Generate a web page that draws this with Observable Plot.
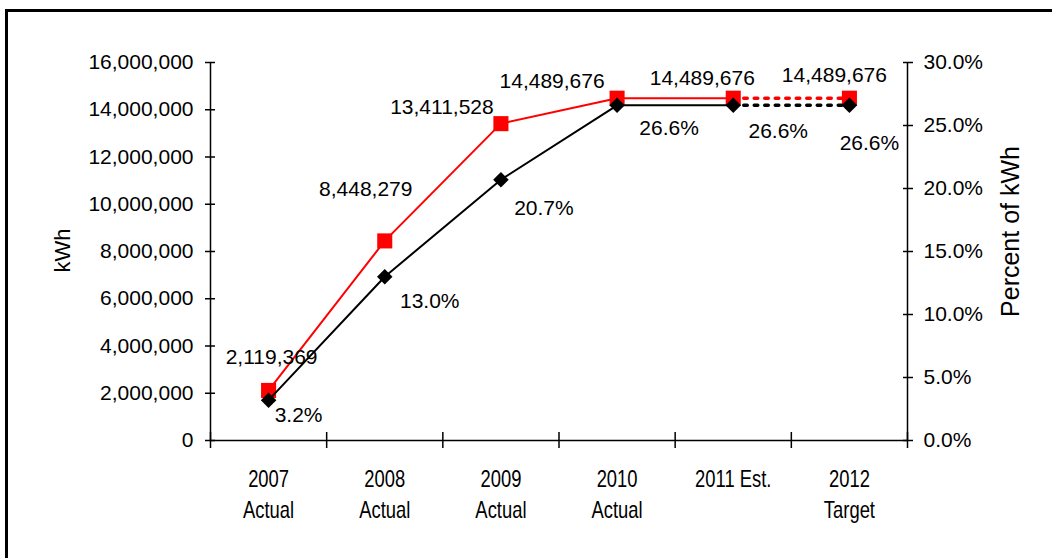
<!DOCTYPE html>
<html>
<head>
<meta charset="utf-8">
<script src="https://cdn.jsdelivr.net/npm/d3@7"></script>
<script src="https://cdn.jsdelivr.net/npm/@observablehq/plot@0.6"></script>
<style>
  html, body { margin: 0; padding: 0; background: #fff; }
  #wrap { position: relative; width: 1052px; height: 558px; overflow: hidden; }
  #border { position: absolute; left: 5px; top: 9px; right: -10px; bottom: -10px;
            border-left: 3px solid #000; border-top: 3px solid #000; pointer-events: none; }
  svg { display: block; }
</style>
</head>
<body>
<div id="wrap"><div id="border"></div></div>
<script>
// ---- data ----
const categories = ["2007\nActual", "2008\nActual", "2009\nActual", "2010\nActual", "2011 Est.", "2012\nTarget"];
const kwhValues = [2119369, 8448279, 13411528, 14489676, 14489676, 14489676];
const pctValues = [3.2, 13.0, 20.7, 26.6, 26.6, 26.6];
const kwhTicks = [0, 2000000, 4000000, 6000000, 8000000, 10000000, 12000000, 14000000, 16000000];
const pctTicks = [0, 5, 10, 15, 20, 25, 30];
const leftTitle = "kWh";
const rightTitle = "Percent of kWh";
const lastActual = 4; // segments after this index are drawn dotted

// ---- derived ----
const kwhMax = kwhTicks[kwhTicks.length - 1];
const pctMax = pctTicks[pctTicks.length - 1];
const pctToY = p => p * kwhMax / pctMax;
const rows = categories.map((c, i) => ({i, cat: c, kwh: kwhValues[i], pct: pctValues[i], pctY: pctToY(pctValues[i])}));
const solidRows = rows.slice(0, lastActual + 1);
const dottedRows = rows.slice(lastActual);
const bounds = d3.range(-0.5, categories.length, 1);

// label placement (manual, as in the original)
const kwhLabelShift = [[3, -33], [-19, -52], [-59, -16], [-65, -17], [-31, -20], [-15, -23]];
const pctLabelShift = [[30, 15], [45, 25], [43, 29], [52, 23], [45, 26], [20, 38]];

const FONT = "Liberation Sans, Arial, sans-serif";
const FS = 21;
const fmtK = d3.format(",");
const fmtP = p => p.toFixed(1) + "%";

const marks = [
  // axes lines
  Plot.ruleY([0], {stroke: "#000", strokeWidth: 1.5}),
  Plot.ruleX([bounds[0], bounds[bounds.length - 1]], {stroke: "#000", strokeWidth: 1.5}),
  // left axis: cross ticks and labels
  Plot.axisY(kwhTicks, {anchor: "left", tickSize: 10, dx: 5, tickFormat: () => "", strokeWidth: 1.5, label: null}),
  Plot.axisY(kwhTicks, {anchor: "left", tickSize: 0, tickPadding: 17, tickFormat: fmtK, fontSize: FS, fill: "#000", label: null}),
  // right axis
  Plot.axisY(pctTicks.map(pctToY), {anchor: "right", tickSize: 10, dx: -5, tickFormat: () => "", strokeWidth: 1.5, label: null}),
  Plot.axisY(pctTicks.map(pctToY), {anchor: "right", tickSize: 0, tickPadding: 16, tickFormat: y => fmtP(y * pctMax / kwhMax), fontSize: FS, fill: "#000", label: null}),
  // x axis cross ticks at boundaries
  Plot.axisX(bounds, {anchor: "bottom", tickSize: 16, dy: -8, tickFormat: () => "", strokeWidth: 1.5, label: null}),
  // category labels
  Plot.text(rows, {x: "i", frameAnchor: "bottom", textAnchor: "middle", text: "cat", lineAnchor: "top", dy: 24.5,
    lineHeight: 1.35, fontSize: 23, fill: "#000"}),
  // axis titles
  Plot.text([leftTitle], {frameAnchor: "left", textAnchor: "middle", dx: -148, dy: -1, rotate: -90, fontSize: 22, fill: "#000"}),
  Plot.text([rightTitle], {frameAnchor: "right", textAnchor: "middle", dx: 103, dy: -20, rotate: -90, fontSize: 25, fill: "#000"}),
  // kWh series
  Plot.line(solidRows, {x: "i", y: "kwh", stroke: "#ff0000", strokeWidth: 2}),
  Plot.line(dottedRows, {x: "i", y: "kwh", stroke: "#ff0000", strokeWidth: 3.5, strokeDasharray: "3.5,7"}),
  Plot.dot(rows, {x: "i", y: "kwh", symbol: "square", r: 8.5, fill: "#ff0000", stroke: "none"}),
  // percent series
  Plot.line(solidRows, {x: "i", y: "pctY", stroke: "#000", strokeWidth: 2}),
  Plot.line(dottedRows, {x: "i", y: "pctY", stroke: "#000", strokeWidth: 3.5, strokeDasharray: "3.5,7"}),
  Plot.dot(rows, {x: "i", y: "pctY", symbol: "diamond2", r: 7, fill: "#000", stroke: "none"}),
  // value labels
  ...rows.map((r, k) => Plot.text([r], {x: "i", y: "kwh", text: d => fmtK(d.kwh), dx: kwhLabelShift[k][0], dy: kwhLabelShift[k][1], fontSize: FS, fill: "#000"})),
  ...rows.map((r, k) => Plot.text([r], {x: "i", y: "pctY", text: d => fmtP(d.pct), dx: pctLabelShift[k][0], dy: pctLabelShift[k][1], fontSize: FS, fill: "#000"}))
];

const chart = Plot.plot({
  width: 1052,
  height: 558,
  marginLeft: 210,
  marginRight: 145,
  marginTop: 62,
  marginBottom: 118,
  style: {fontFamily: FONT, fontSize: FS + "px", color: "#000", background: "transparent"},
  x: {type: "linear", domain: [bounds[0], bounds[bounds.length - 1]], axis: null},
  y: {domain: [0, kwhMax], axis: null},
  marks
});
// condense the category labels horizontally, like the original's narrow glyphs
const catFirstLines = new Set(categories.map(c => c.split("\n")[0]));
d3.select(chart).selectAll("text").each(function () {
  const ts = this.querySelector("tspan");
  const first = ts ? ts.textContent : this.textContent;
  if (catFirstLines.has(first)) {
    const tr = this.getAttribute("transform") || "";
    this.setAttribute("transform", tr + " scale(0.8,1)");
  }
});
document.getElementById("wrap").prepend(chart);
</script>
</body>
</html>
